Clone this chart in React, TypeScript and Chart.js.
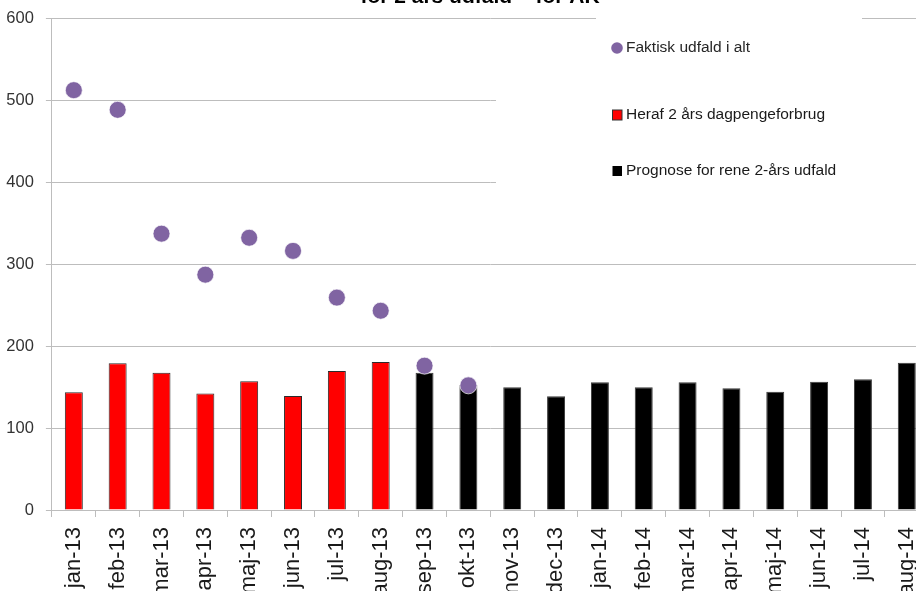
import { useEffect, useRef } from "react";
import { Chart, registerables } from "chart.js";

Chart.register(...registerables);

const categories = [
  "jan-13", "feb-13", "mar-13", "apr-13", "maj-13", "jun-13", "jul-13", "aug-13",
  "sep-13", "okt-13", "nov-13", "dec-13", "jan-14", "feb-14", "mar-14", "apr-14",
  "maj-14", "jun-14", "jul-14", "aug-14",
];

const actualTotal = [512, 488, 337, 287, 332, 316, 259, 243, 176, 152,
  null, null, null, null, null, null, null, null, null, null];

const twoYearUsage = [143.5, 179, 167.5, 142, 157, 139, 169.5, 180.5,
  null, null, null, null, null, null, null, null, null, null, null, null];

const forecast = [null, null, null, null, null, null, null, null,
  167.5, 152.5, 149.6, 138.6, 155.7, 149.6, 155.7, 148.4, 144.3, 156.5, 159.3, 179.6];

const yTickValues = [0, 100, 200, 300, 400, 500, 600];

const seriesLabels = [
  "Faktisk udfald i alt",
  "Heraf 2 års dagpengeforbrug",
  "Prognose for rene 2-års udfald",
];

const titleText = "for 2 års udfald – for AK";

const OFFSET_Y = 40;
const W = 950;
const H = 671;
const FONT = "'Liberation Sans', Arial, sans-serif";

const overlayPlugin = {
  id: "overlay",
  beforeDatasetsDraw(chart: any) {
    const ctx = chart.ctx;
    ctx.save();
    ctx.fillStyle = "#ffffff";
    ctx.fillRect(496, 24 + OFFSET_Y, W - 496, 196);
    ctx.fillRect(596, 8 + OFFSET_Y, 266, 20);
    ctx.restore();
  },
  afterDraw(chart: any) {
    const ctx = chart.ctx;
    ctx.save();
    // title
    ctx.fillStyle = "#000000";
    ctx.font = `bold 21px ${FONT}`;
    ctx.textAlign = "center";
    ctx.textBaseline = "alphabetic";
    ctx.fillText(titleText, 480, 3 + OFFSET_Y);

    // legend
    ctx.textAlign = "left";
    ctx.textBaseline = "middle";
    ctx.font = `15.5px ${FONT}`;
    const tx = 626;
    const ys = [48, 115, 171].map((v) => v + OFFSET_Y);
    // point marker
    ctx.beginPath();
    ctx.fillStyle = "#8064A2";
    ctx.arc(617, ys[0], 5.8, 0, Math.PI * 2);
    ctx.fill();
    ctx.fillStyle = "#262626";
    ctx.fillText(seriesLabels[0], tx, ys[0]);
    // red square
    ctx.fillStyle = "#FF0000";
    ctx.fillRect(612.5, ys[1] - 5, 9.5, 10);
    ctx.strokeStyle = "#333333";
    ctx.lineWidth = 1;
    ctx.strokeRect(612.5, ys[1] - 5, 9.5, 10);
    ctx.fillStyle = "#1a1a1a";
    ctx.fillText(seriesLabels[1], tx, ys[1]);
    // black square
    ctx.fillStyle = "#000000";
    ctx.fillRect(612.5, ys[2] - 5, 9.5, 10);
    ctx.fillStyle = "#1a1a1a";
    ctx.fillText(seriesLabels[2], tx, ys[2]);
    ctx.restore();
  },
};

export default function App() {
  const ref = useRef<HTMLCanvasElement | null>(null);

  useEffect(() => {
    if (!ref.current) return;
    const chart = new Chart(ref.current, {
      type: "bar",
      data: {
        labels: categories,
        datasets: [
          {
            type: "line",
            label: seriesLabels[0],
            data: actualTotal,
            showLine: false,
            pointRadius: 8.5,
            pointHoverRadius: 8.5,
            pointBackgroundColor: "#8064A2",
            pointBorderColor: "rgba(255,255,255,0.7)",
            pointBorderWidth: 1,
            order: 0,
          } as any,
          {
            type: "bar",
            label: seriesLabels[1],
            data: twoYearUsage,
            backgroundColor: "#FF0000",
            borderColor: "#2b2b2b",
            borderWidth: 1,
            grouped: false,
            barPercentage: 0.41,
            categoryPercentage: 1,
            order: 1,
          } as any,
          {
            type: "bar",
            label: seriesLabels[2],
            data: forecast,
            backgroundColor: "#000000",
            borderColor: "#3a3a3a",
            borderWidth: 1,
            grouped: false,
            barPercentage: 0.41,
            categoryPercentage: 1,
            order: 1,
          } as any,
        ],
      },
      options: {
        responsive: false,
        animation: false,
        devicePixelRatio: 1,
        layout: {
          padding: { top: 18 + OFFSET_Y, left: 0, right: W - 928.7, bottom: 0 },
        },
        plugins: {
          legend: { display: false },
          title: { display: false },
          tooltip: { enabled: false },
        },
        scales: {
          x: {
            offset: true,
            grid: {
              offset: true,
              drawOnChartArea: false,
              drawTicks: true,
              tickLength: 7,
              color: "#bdbdbd",
            },
            border: { display: true, color: "#bdbdbd", width: 1 },
            ticks: {
              autoSkip: false,
              minRotation: 90,
              maxRotation: 90,
              padding: 10,
              color: "#1a1a1a",
              font: { family: FONT, size: 22 },
            },
            afterFit: (scale: any) => {
              scale.height = H - (510 + OFFSET_Y);
            },
          },
          y: {
            min: 0,
            max: 600,
            afterBuildTicks: (scale: any) => {
              scale.ticks = yTickValues.map((v) => ({ value: v }));
            },
            grid: {
              color: "#bdbdbd",
              tickLength: 6,
              drawTicks: true,
            },
            border: { display: true, color: "#bdbdbd", width: 1 },
            ticks: {
              padding: 12,
              color: "#333333",
              font: { family: FONT, size: 16.5 },
            },
            afterFit: (scale: any) => {
              scale.width = 51.9;
            },
          },
        },
      },
      plugins: [overlayPlugin],
    });
    return () => chart.destroy();
  }, []);

  return (
    <div
      style={{
        position: "fixed",
        left: 0,
        top: 0,
        width: 916,
        height: 591,
        overflow: "hidden",
        background: "#ffffff",
      }}
    >
      <canvas
        ref={ref}
        width={W}
        height={H}
        style={{ position: "absolute", left: 0, top: -OFFSET_Y, width: W, height: H }}
      />
    </div>
  );
}
